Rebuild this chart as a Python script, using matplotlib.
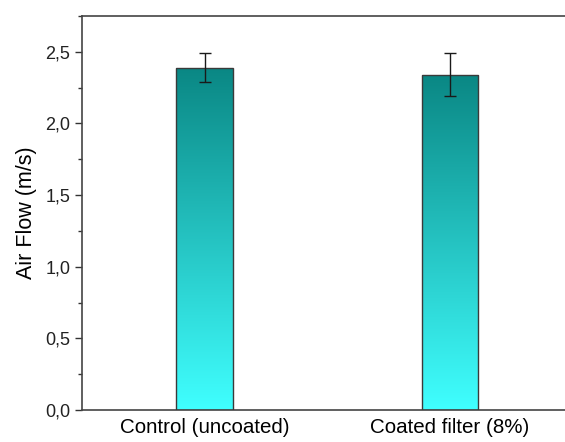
import matplotlib.pyplot as plt
import numpy as np
from matplotlib.colors import LinearSegmentedColormap
from matplotlib.ticker import FuncFormatter, MultipleLocator

categories = ["Control (uncoated)", "Coated filter (8%)"]
air_flow = [2.39, 2.34]
air_flow_err = [0.10, 0.15]

plt.rcParams["font.family"] = ["Liberation Sans", "DejaVu Sans"]

fig = plt.figure(figsize=(5.65, 4.42), dpi=100)
ax = fig.add_axes([0.1451, 0.0724, 0.8683, 0.8914])

x = np.arange(1, len(categories) + 1)
width = 0.23
bars = ax.bar(x, air_flow, width=width, facecolor="none",
              edgecolor="#3a3a3a", linewidth=1.0, zorder=3)

cmap = LinearSegmentedColormap.from_list("teal", ["#40ffff", "#0a8784"])
grad = np.linspace(0, 1, 256).reshape(-1, 1)
for bar in bars:
    x0, y0 = bar.get_x(), bar.get_y()
    w, h = bar.get_width(), bar.get_height()
    im = ax.imshow(grad, cmap=cmap, aspect="auto", origin="lower",
                   extent=[x0, x0 + w, y0, y0 + h], zorder=2)
    im.set_clip_path(bar)

ax.errorbar(x, air_flow, yerr=air_flow_err, fmt="none", ecolor="#1a1a1a",
            elinewidth=1.0, capsize=4, capthick=1.0, zorder=4)

ax.set_xlim(0.5, 2.5)
ax.set_ylim(0, 2.75)
ax.set_xticks(x)
ax.set_xticklabels(categories, fontsize=14.8)
ax.tick_params(axis="x", length=0, pad=6)
ax.yaxis.set_major_locator(MultipleLocator(0.5))
ax.yaxis.set_minor_locator(MultipleLocator(0.25))
ax.yaxis.set_major_formatter(FuncFormatter(lambda v, p: f"{v:.1f}".replace(".", ",")))
ax.tick_params(axis="y", which="major", direction="out", length=5, width=1,
               labelsize=13, colors="#333333", labelcolor="#222222")
ax.tick_params(axis="y", which="minor", direction="out", length=3, width=1,
               colors="#333333")
ax.set_ylabel("Air Flow (m/s)", fontsize=15.5, labelpad=6)
for s in ax.spines.values():
    s.set_color("#444444")
    s.set_linewidth(1.2)

fig.savefig("out.png", dpi=100)
